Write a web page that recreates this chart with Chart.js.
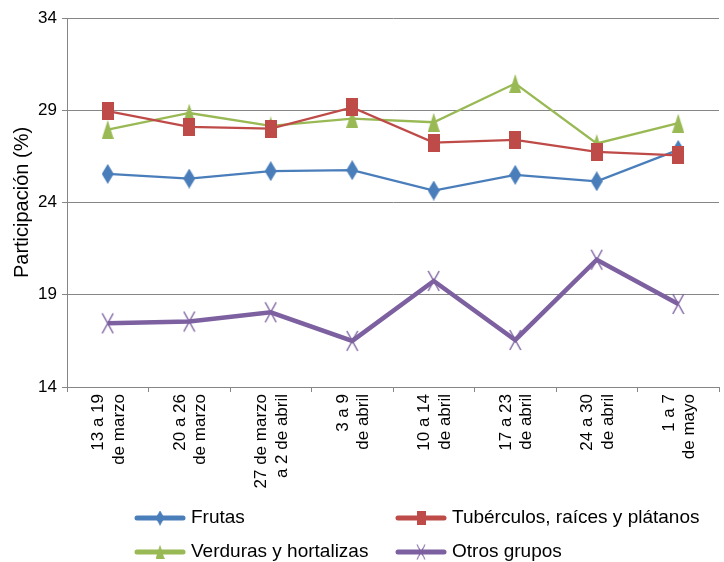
<!DOCTYPE html>
<html>
<head>
<meta charset="utf-8">
<script src="https://cdn.jsdelivr.net/npm/chart.js@4"></script>
<style>
  html, body { margin: 0; padding: 0; background: #fff; }
  #wrap { width: 724px; height: 562px; }
</style>
</head>
<body>
<div id="wrap"><canvas id="chart" width="724" height="562"></canvas></div>
<script>
const categories = [
  ['13 a 19', 'de marzo'],
  ['20 a 26', 'de marzo'],
  ['27 de marzo', 'a 2 de abril'],
  ['3 a 9', 'de abril'],
  ['10 a 14', 'de abril'],
  ['17 a 23', 'de abril'],
  ['24 a 30', 'de abril'],
  ['1 a 7', 'de mayo']
];
const yTicks = [14, 19, 24, 29, 34];

const frutas = [25.55, 25.3, 25.7, 25.75, 24.65, 25.5, 25.15, 26.85];
const tuberculos = [28.95, 28.1, 28.0, 29.15, 27.25, 27.4, 26.75, 26.55];
const verduras = [27.95, 28.85, 28.15, 28.55, 28.35, 30.45, 27.2, 28.3];
const otros = [17.45, 17.55, 18.05, 16.5, 19.75, 16.55, 20.9, 18.5];

const FONT = '"Liberation Sans", Arial, sans-serif';
const GRID = '#868686';

// small canvases used as point styles
function makeMarker(shape, color, w, h) {
  const c = document.createElement('canvas');
  c.width = w;
  c.height = h;
  const ctx = c.getContext('2d');
  ctx.fillStyle = color;
  ctx.strokeStyle = color;
  ctx.beginPath();
  if (shape === 'diamond') {
    ctx.moveTo(w / 2, 0);
    ctx.lineTo(w, h / 2);
    ctx.lineTo(w / 2, h);
    ctx.lineTo(0, h / 2);
    ctx.closePath();
    ctx.fill();
  } else if (shape === 'square') {
    ctx.rect(0, 0, w, h);
    ctx.fill();
  } else if (shape === 'triangle') {
    ctx.moveTo(w / 2, 0);
    ctx.lineTo(w, h);
    ctx.lineTo(0, h);
    ctx.closePath();
    ctx.fill();
  } else {
    ctx.lineWidth = 1.4;
    ctx.moveTo(1, 1);
    ctx.lineTo(w - 1, h - 1);
    ctx.moveTo(w - 1, 1);
    ctx.lineTo(1, h - 1);
    ctx.stroke();
  }
  return c;
}

const series = [
  { label: 'Frutas', data: frutas, color: '#4a7ebb', marker: makeMarker('diamond', '#4a7ebb', 12, 20), width: 2.25, order: 3 },
  { label: 'Tubérculos, raíces y plátanos', data: tuberculos, color: '#be4b48', marker: makeMarker('square', '#be4b48', 12, 18), width: 2.25, order: 1 },
  { label: 'Verduras y hortalizas', data: verduras, color: '#98b954', marker: makeMarker('triangle', '#98b954', 12, 19), width: 2.25, order: 2 },
  { label: 'Otros grupos', data: otros, color: '#7d60a0', marker: makeMarker('x', '#7d60a0', 13, 22), width: 4.5, order: 0 }
];

// legend laid out as in the original, two columns
const legendSlots = [
  { x: 137, y: 518 },
  { x: 398, y: 518 },
  { x: 137, y: 552 },
  { x: 398, y: 552 }
];

const legendPlugin = {
  id: 'gridLegend',
  afterDraw(chart) {
    const ctx = chart.ctx;
    ctx.save();
    ctx.font = '19px ' + FONT;
    ctx.textBaseline = 'middle';
    ctx.fillStyle = '#000';
    series.forEach((s, i) => {
      const p = legendSlots[i];
      ctx.strokeStyle = s.color;
      ctx.lineWidth = 5;
      ctx.lineCap = 'round';
      ctx.beginPath();
      ctx.moveTo(p.x, p.y);
      ctx.lineTo(p.x + 46, p.y);
      ctx.stroke();
      const m = s.marker;
      const k = 0.75;
      ctx.drawImage(m, p.x + 23 - m.width * k / 2, p.y - m.height * k / 2, m.width * k, m.height * k);
      ctx.fillText(s.label, p.x + 54, p.y);
    });
    ctx.restore();
  }
};

new Chart(document.getElementById('chart'), {
  type: 'line',
  data: {
    labels: categories,
    datasets: series.map(s => ({
      label: s.label,
      data: s.data,
      borderColor: s.color,
      backgroundColor: s.color,
      borderWidth: s.width,
      pointStyle: s.marker,
      pointRadius: 8,
      pointHoverRadius: 8,
      tension: 0,
      fill: false,
      order: s.order,
      clip: false
    }))
  },
  options: {
    responsive: false,
    animation: false,
    events: [],
    layout: { autoPadding: false, padding: { top: 18, right: 5, left: 10, bottom: 0 } },
    plugins: {
      legend: { display: false },
      tooltip: { enabled: false }
    },
    scales: {
      x: {
        offset: true,
        grid: { offset: true, drawOnChartArea: false, color: GRID, tickLength: 5 },
        border: { color: GRID },
        ticks: {
          maxRotation: 90,
          minRotation: 90,
          autoSkip: false,
          color: '#000',
          padding: 2,
          labelOffset: -9,
          font: { family: FONT, size: 17 }
        },
        afterFit(scale) { scale.height = 175; }
      },
      y: {
        min: 14,
        max: 34,
        afterBuildTicks(scale) { scale.ticks = yTicks.map(v => ({ value: v })); },
        grid: { color: GRID, tickLength: 5 },
        border: { color: GRID },
        ticks: { color: '#000', padding: 5, font: { family: FONT, size: 17 } },
        title: {
          display: true,
          text: 'Participación (%)',
          color: '#000',
          padding: 0,
          font: { family: FONT, size: 20 }
        },
        afterFit(scale) { scale.width = 57; }
      }
    }
  },
  plugins: [legendPlugin]
});
</script>
</body>
</html>
